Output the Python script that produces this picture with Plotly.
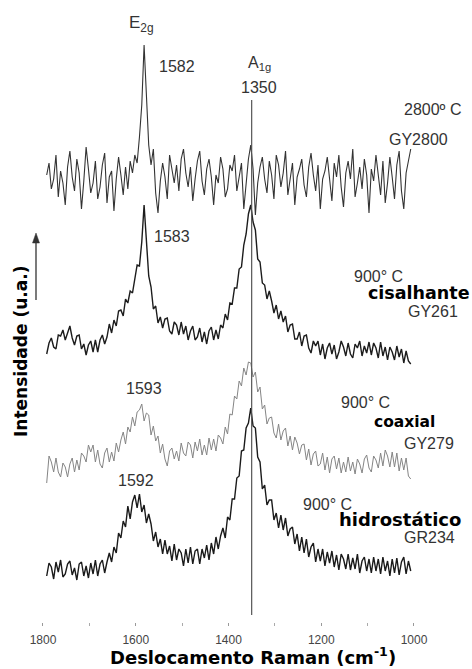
import plotly.graph_objects as go

# Raman shift grid (cm-1), sampled every 5 cm-1 from high to low shift
SHIFT_START = 1792
SHIFT_STEP = 5

# Intensities (a.u.) of each spectrum relative to its own baseline
gy2800 = [
    10, 22, -4, 6, 30, -12, 14, 2, -20, 18,
    34, 8, -6, 26, 12, -24, 4, 38, 16, -8,
    2, 24, -14, -2, 20, 32, -18, 8, 14, -26,
    6, 28, 10, -10, 18, -4, 24, 12, 30, 22,
    48, 80, 140, 95, 40, 20, 36, -8, -28, 4,
    22, 8, -14, 30, 14, 2, 20, -6, 26, 36,
    12, -2, 18, -16, 6, 24, 34, 4, -10, 16,
    26, 8, -20, 10, 2, 28, 16, -12, -4, 20,
    14, 30, -6, 8, 22, -24, 4, 26, 40, 16,
    -30, 2, 18, 28, 6, -8, 24, 10, -14, 30,
    20, -2, 12, 34, -10, 4, 22, -20, 8, 16,
    26, 0, -12, 18, 32, 10, -6, 20, -24, 6,
    14, 28, 4, -16, 22, 8, 30, -2, -22, 12,
    24, 6, 36, -12, 2, 18, -4, 26, 10, -28,
    16, 4, 30, 12, -10, 24, -18, 2, 28, 8,
    -14, 20, 34, -6, -24, 12, 26, 36,
]

gy261 = [
    1, 12, 17, 8, 6, 20, 19, 25, 15, 22,
    29, 17, 10, 19, 20, 6, 11, 0, 10, 14,
    3, 15, 3, 15, 20, 11, 18, 31, 22, 35,
    29, 44, 45, 39, 56, 52, 64, 62, 78, 90,
    89, 113, 150, 112, 79, 68, 46, 49, 32, 38,
    27, 36, 37, 24, 21, 33, 30, 20, 33, 21,
    29, 15, 24, 29, 15, 18, 27, 13, 23, 11,
    24, 28, 15, 25, 16, 30, 27, 41, 35, 52,
    51, 67, 67, 86, 88, 110, 121, 141, 150, 133,
    125, 96, 93, 72, 70, 56, 64, 54, 42, 50,
    36, 44, 33, 39, 23, 30, 31, 16, 16, 23,
    9, 19, 20, 7, 2, 14, 9, 14, 0, 11,
    -4, 7, 12, 1, 10, -4, 3, 14, 8, -1,
    12, 1, -3, 11, 7, 14, -1, 9, 2, 13,
    0, 12, 7, -3, 13, -1, 8, -5, 8, 3,
    -5, 9, -2, 6, -8, 4, -6, -9,
]

gy279 = [
    -18, 9, 3, -7, 7, -7, -12, 2, -2, -12,
    1, 7, -7, 5, -5, 12, 9, 3, 20, 13,
    20, 3, 15, 1, -3, 12, 17, 3, 13, 4,
    22, 13, 25, 33, 21, 38, 33, 48, 39, 53,
    55, 61, 44, 52, 50, 30, 39, 24, 29, 12,
    21, 6, -1, 14, 17, 6, 14, 4, 22, 12,
    9, 23, 20, 7, 23, 14, 26, 10, 20, 10,
    27, 15, 26, 14, 30, 27, 21, 38, 31, 51,
    50, 69, 66, 84, 79, 97, 90, 103, 102, 88,
    93, 73, 78, 56, 60, 41, 47, 48, 32, 27,
    41, 25, 34, 37, 19, 29, 15, 28, 22, 11,
    20, 21, 5, 16, 0, 11, 14, -1, 1, 12,
    -5, 8, -8, 6, 9, -4, 7, -8, 3, -7,
    8, -6, 3, -9, 6, 1, -8, 6, 10, -3,
    -7, 9, 5, -3, 12, -1, 15, 9, -2, 13,
    -2, 12, -6, 7, -5, 7, -11, -14,
]

gr234 = [
    -6, 7, 3, -9, 8, -2, 10, -7, -4, 6,
    9, -5, 2, -10, 6, 8, -6, 4, -8, 7,
    -4, 10, -6, 6, 10, -3, 8, 17, 8, 23,
    17, 37, 32, 49, 43, 64, 51, 68, 75, 62,
    76, 58, 65, 47, 56, 46, 29, 38, 23, 31,
    16, 30, 16, 24, 9, 26, 10, 21, 17, 4,
    21, 7, 23, 6, 19, 21, 6, 21, 12, 25,
    10, 27, 16, 33, 21, 34, 42, 32, 53, 50,
    71, 71, 92, 94, 119, 120, 142, 147, 162, 144,
    142, 113, 108, 81, 85, 65, 70, 70, 50, 57,
    42, 55, 40, 52, 34, 41, 43, 26, 36, 19,
    33, 17, 31, 13, 23, 27, 8, 21, 9, 21,
    4, 18, 7, 19, 3, 15, 0, 16, 11, 1,
    16, 0, 12, 1, 16, -3, 9, 13, -1, 11,
    -3, 13, -1, 11, -4, 13, -1, 9, -6, 11,
    -3, 12, -5, 8, 13, -4, 9, -1,
]

spectra = [gy2800, gy261, gy279, gr234]
stack_offsets = [437, 267, 157, 52]
line_colors = ["#333333", "#1c1c1c", "#858585", "#1a1a1a"]
line_widths = [1.1, 1.4, 1.0, 1.4]

# A1g (D band) reference position
A1G_SHIFT = 1350

tick_values = [1800, 1600, 1400, 1200, 1000]
tick_labels = ["1800", "1600", "1400", "1200", "1000"]
unlabelled_ticks = [1700, 1500, 1300, 1100]

X_RANGE = [1892.7, 874.9]
W, H = 472, 669
PLOT_BOTTOM = 622  # pixel row of the plot-area bottom

fig = go.Figure()

for values, offset, color, width in zip(spectra, stack_offsets, line_colors, line_widths):
    shifts = [SHIFT_START - SHIFT_STEP * i for i in range(len(values))]
    fig.add_trace(go.Scatter(
        x=shifts,
        y=[offset + v for v in values],
        mode="lines",
        line=dict(color=color, width=width),
        hoverinfo="skip",
    ))

# vertical marker at the A1g band
fig.add_shape(type="line", xref="x", yref="y",
              x0=A1G_SHIFT, x1=A1G_SHIFT, y0=PLOT_BOTTOM - 615, y1=PLOT_BOTTOM - 100,
              line=dict(color="#555555", width=1.2))


def px(x):
    return x / W


def py(y):
    return (PLOT_BOTTOM - y) / PLOT_BOTTOM


REG = "Liberation Sans, Arial, sans-serif"
BOLD = "DejaVu Sans, Arial Black, sans-serif"

labels = [
    # text, left x, centre y, size
    ("E<sub>2g</sub>", 127, 24, 17),
    ("1582", 157, 66, 16),
    ("A<sub>1g</sub>", 246, 64, 16),
    ("1350", 239, 87, 16),
    ("2800º C", 402, 109, 16),
    ("GY2800", 387, 139, 16),
    ("1583", 152, 237, 16),
    ("900° C", 352, 276, 16),
    ("GY261", 406, 311, 16),
    ("1593", 124, 388, 16),
    ("900° C", 339, 402, 16),
    ("GY279", 402, 443, 16),
    ("1592", 116, 480, 16),
    ("900° C", 301, 504, 16),
    ("GR234", 402, 537, 16),
]
for text, x, y, size in labels:
    fig.add_annotation(text=text, xref="paper", yref="paper", x=px(x), y=py(y),
                       xanchor="left", yanchor="middle", showarrow=False,
                       font=dict(family=REG, size=size, color="#333333"))

bold_labels = [
    # text, left x, centre y, size
    ("cisalhante", 366, 293, 17.5),
    ("coaxial", 372, 422, 15.5),
    ("hidrostático", 337, 519, 18),
]
for text, x, y, size in bold_labels:
    fig.add_annotation(text=f"<b>{text}</b>", xref="paper", yref="paper",
                       x=px(x), y=py(y), xanchor="left", yanchor="middle",
                       showarrow=False,
                       font=dict(family=BOLD, size=size, color="#000000"))

# axis titles
fig.add_annotation(text="<b>Deslocamento Raman (cm<sup>-1</sup>)</b>",
                   xref="paper", yref="paper", x=px(253), y=py(656),
                   xanchor="center", yanchor="middle", showarrow=False,
                   font=dict(family=BOLD, size=18, color="#000000"))
fig.add_annotation(text="<b>Intensidade (u.a.)</b>",
                   xref="paper", yref="paper", x=px(21), y=py(352),
                   xanchor="center", yanchor="middle", showarrow=False,
                   textangle=-90,
                   font=dict(family=BOLD, size=17, color="#000000"))

# intensity arrow
fig.add_shape(type="line", xref="paper", yref="paper",
              x0=px(36), x1=px(36), y0=py(300), y1=py(240),
              line=dict(color="#333333", width=1.3))
fig.add_shape(type="path", xref="paper", yref="paper",
              path=f"M {px(32.5)} {py(243)} L {px(36)} {py(233)} L {px(39.5)} {py(243)} Z",
              fillcolor="#333333", line=dict(color="#333333", width=0.5))

fig.update_layout(
    width=W, height=H,
    margin=dict(l=0, r=0, t=0, b=H - PLOT_BOTTOM, pad=0),
    paper_bgcolor="white", plot_bgcolor="white",
    showlegend=False,
    xaxis=dict(
        range=X_RANGE,
        tickvals=tick_values, ticktext=tick_labels,
        ticks="outside", ticklen=3, tickwidth=1, tickcolor="#999999",
        ticklabelstandoff=4,
        tickfont=dict(family=REG, size=12, color="#444444"),
        showline=False, showgrid=False, zeroline=False,
    ),
    # second, label-free axis carrying the intermediate ticks
    xaxis2=dict(
        range=X_RANGE, overlaying="x", side="bottom", anchor="y",
        tickvals=unlabelled_ticks, showticklabels=False,
        ticks="outside", ticklen=3, tickwidth=1, tickcolor="#aaaaaa",
        showline=False, showgrid=False, zeroline=False,
    ),
    yaxis=dict(range=[0, PLOT_BOTTOM], visible=False),
)

# an empty trace so the second axis is drawn
fig.add_trace(go.Scatter(x=[], y=[], xaxis="x2", yaxis="y",
                         mode="lines", hoverinfo="skip"))

fig.write_html("out.html")
